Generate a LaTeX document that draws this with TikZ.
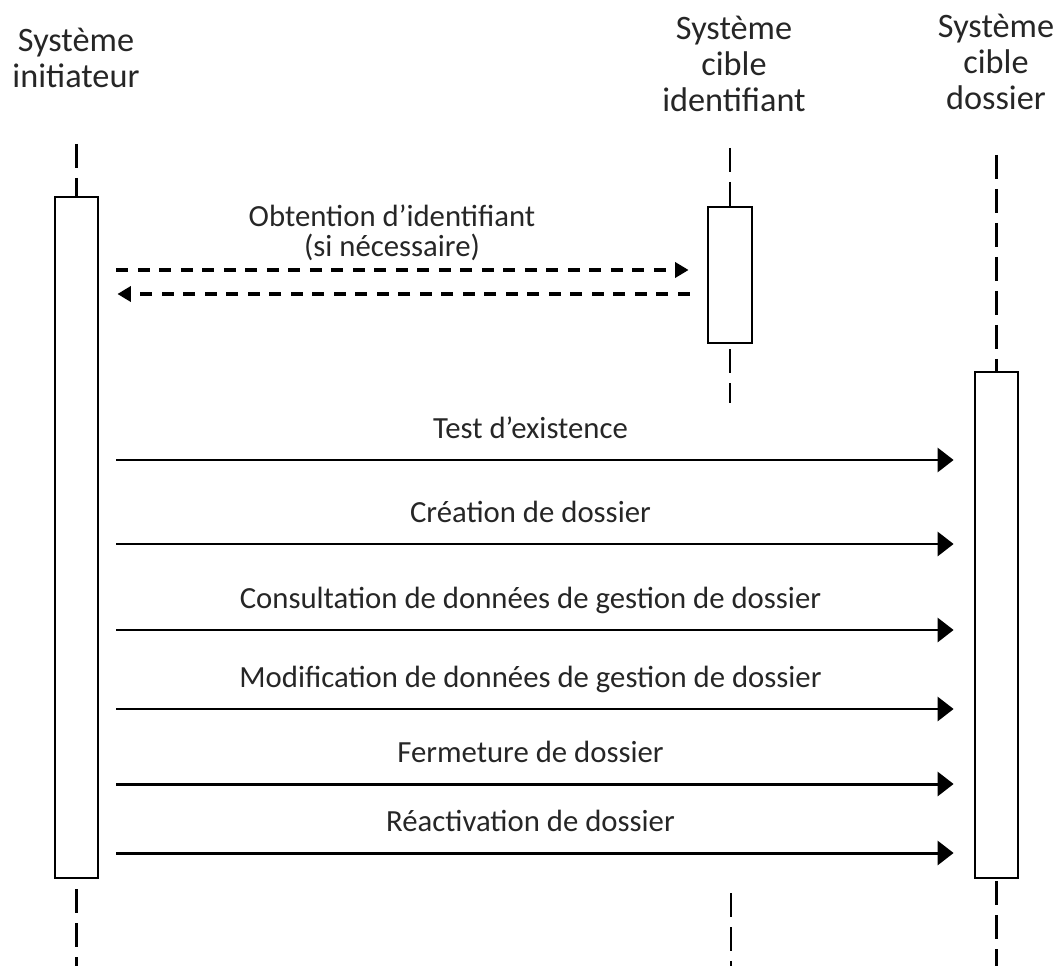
\documentclass[tikz,border=0pt]{standalone}
\usepackage{fontspec}
\setmainfont{Carlito}
\usetikzlibrary{arrows.meta}
\begin{document}
\begin{tikzpicture}[x=0.02cm, y=-0.02cm,
    actbox/.style={draw, line width=1.6pt, fill=white, inner sep=0pt, minimum width=0.86cm},
    lifeline/.style={line width=1.4pt, dash pattern=on 0.48cm off 0.2cm},
    msg/.style={line width=1.7pt, shorten <=0.34cm, shorten >=0.4cm, -{Triangle[length=0.32cm, width=0.48cm]}},
    reply/.style={line width=2pt, shorten <=0.34cm, shorten >=0.36cm, dash pattern=on 0.24cm off 0.19cm, -{Triangle[length=0.27cm, width=0.3cm]}},
    head/.style={align=center, text=black!85, font=\fontsize{19.5}{20.3}\selectfont},
    lbl/.style={midway, anchor=base, xshift=-0.12cm, yshift=0.44cm, text=black!85, font=\fontsize{17.5}{17}\selectfont}]
    \useasboundingbox (0,0) rectangle (1058,966);
    \node[head] (hini) at (76,58) {Système\\initiateur};
    \node[head] (hidt) at (734,64) {Système\\cible\\identifiant};
    \node[head] (hdos) at (996,62) {Système\\cible\\dossier};
    \node[actbox, minimum height=13.62cm] (ini) at (76.5,537.5) {};
    \node[actbox, minimum width=0.88cm, minimum height=2.72cm] (idt) at (730,275) {};
    \node[actbox, minimum height=10.12cm] (dos) at (996.5,625) {};
    \coordinate (ini top) at (76.5,144);
    \coordinate (ini end) at (76.5,966);
    \coordinate (idt top) at (730,148);
    \coordinate (idt mid) at (730,403);
    \coordinate (idt low) at (731,893);
    \coordinate (idt end) at (731,966);
    \coordinate (dos top) at (996.5,155);
    \coordinate (dos end) at (996.5,966);
    \draw[lifeline] (ini top) -- (ini.north);
    \draw[lifeline] ([yshift=-0.2cm]ini.south) -- (ini end);
    \draw[lifeline] (idt top) -- (idt.north);
    \draw[lifeline] ([yshift=-0.1cm]idt.south) -- (idt mid);
    \draw[lifeline] (idt low) -- (idt end);
    \draw[lifeline] (dos top) -- (dos.north);
    \draw[lifeline] ([yshift=-0.04cm]dos.south) -- (dos end);
    \node[align=center, text=black!85, font=\fontsize{17.5}{17}\selectfont] (obt) at (392,233) {Obtention d’identifiant\\(si nécessaire)};
    \draw[reply] (ini.east |- 0,270) -- (idt.west |- 0,270);
    \draw[reply] (idt.west |- 0,294) -- (ini.east |- 0,294);
    \draw[msg] (ini.east |- 0,460) -- (dos.west |- 0,460) node[lbl] {Test d’existence};
    \draw[msg] (ini.east |- 0,544) -- (dos.west |- 0,544) node[lbl] {Création de dossier};
    \draw[msg] (ini.east |- 0,630) -- (dos.west |- 0,630) node[lbl] {Consultation de données de gestion de dossier};
    \draw[msg] (ini.east |- 0,709) -- (dos.west |- 0,709) node[lbl] {Modification de données de gestion de dossier};
    \draw[msg] (ini.east |- 0,784) -- (dos.west |- 0,784) node[lbl] {Fermeture de dossier};
    \draw[msg] (ini.east |- 0,853) -- (dos.west |- 0,853) node[lbl] {Réactivation de dossier};
  \end{tikzpicture}
\end{document}
